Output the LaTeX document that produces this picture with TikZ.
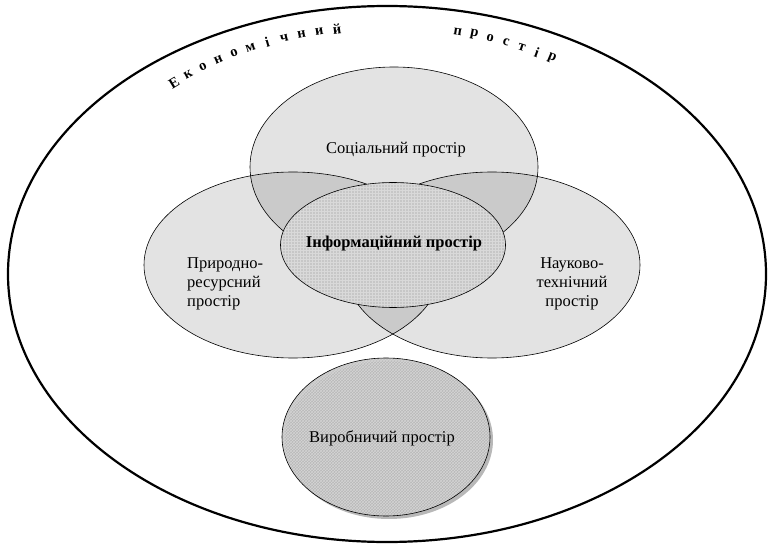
\documentclass[tikz,border=0pt]{standalone}
\usepackage{fontspec}
\setmainfont{Liberation Serif}
\usetikzlibrary{shapes.geometric,patterns,shadows}

\begin{document}
\begin{tikzpicture}[x=1pt, y=1pt,
  space/.style={ellipse, draw=black, line width=0.6pt, inner sep=0pt},
  subspace/.style={space, fill=black, fill opacity=0.11},
  spacetext/.style={font=\fontsize{16.5}{19}\selectfont, align=center, inner sep=0pt},
  letter/.style={font=\fontsize{14.5}{16}\selectfont\bfseries, inner sep=0pt}]
  \useasboundingbox (0,0) rectangle (768,547);
  \node[space, line width=2.2pt, minimum width=758pt, minimum height=536pt] (econ) at (387,273) {};
  % three overlapping spaces
  \node[subspace, minimum width=288pt, minimum height=200pt] (social) at (394,380) {};
  \node[subspace, minimum width=298pt, minimum height=186pt] (nature) at (293,282) {};
  \node[subspace, minimum width=296pt, minimum height=186pt] (science) at (492,282) {};
  \node[space, preaction={fill=black!22}, pattern=grid, pattern color=black!15,
    minimum width=225pt, minimum height=125pt] (info) at (393,302) {};
  \node[space, preaction={fill=black!24}, pattern=crosshatch, pattern color=black!17,
    drop shadow={shadow xshift=3pt, shadow yshift=-3pt, fill=black!28, opacity=1},
    minimum width=208pt, minimum height=158pt] (prod) at (386,110) {};

  \node[spacetext] (socialtext) at (396,397) {Соціальний простір};
  \node[spacetext, font=\fontsize{16.5}{19}\selectfont\bfseries] (infotext) at (394,303) {Інформаційний простір};
  \node[spacetext, align=left, anchor=west] (naturetext) at (187,263) {Природно-\\ресурсний\\простір};
  \node[spacetext] (sciencetext) at (572,263) {Науково-\\технічний\\простір};
  \node[spacetext] (prodtext) at (382,109) {Виробничий простір};

  \begin{scope}[shift={(econ.center)}]
    \foreach \ch [count=\i] in {Е,к,о,н,о,м,і,ч,н,и,й} {
      \pgfmathsetmacro\t{129.5-3.09*(\i-1)}
      \pgfmathsetmacro\r{atan2(-248*cos(\t),335*sin(\t))}
      \node[letter, rotate=\r] (e\i) at (\t:335pt and 248pt) {\ch};
    }
    \foreach \ch [count=\i] in {п,р,о,с,т,і,р} {
      \pgfmathsetmacro\t{77.8-2.88*(\i-1)}
      \pgfmathsetmacro\r{atan2(-248*cos(\t),335*sin(\t))}
      \node[letter, rotate=\r] (p\i) at (\t:335pt and 248pt) {\ch};
    }
  \end{scope}
\end{tikzpicture}
\end{document}
